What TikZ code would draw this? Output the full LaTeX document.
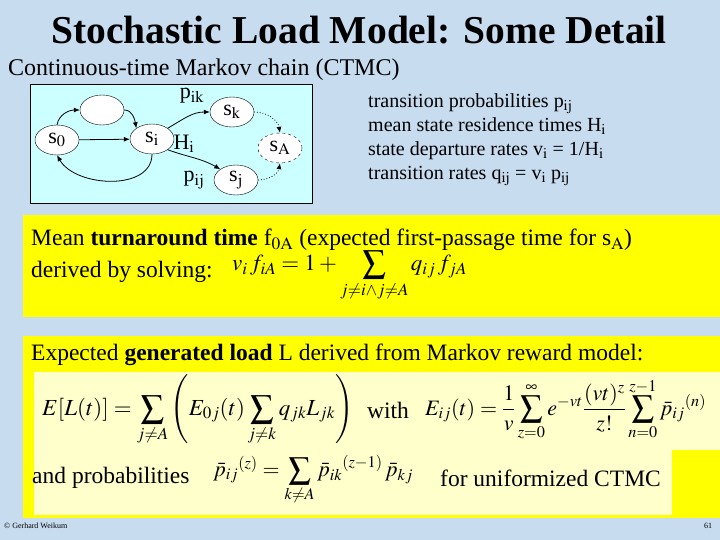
\documentclass[tikz,border=0pt]{standalone}
\usepackage{mathptmx}
\usepackage[no-math]{fontspec}
\setmainfont{Liberation Serif}
\usetikzlibrary{shapes.geometric,arrows.meta}
\definecolor{bg}{HTML}{C8DCF0}
\definecolor{cy}{HTML}{CCFFFF}
\definecolor{yel}{HTML}{FFFF00}
\definecolor{crm}{HTML}{FFFFCC}
\begin{document}
\begin{tikzpicture}[x=1pt,y=-1pt,
  st/.style={ellipse,draw,fill=white,minimum width=44pt,minimum height=30pt,inner sep=0pt,font=\fontsize{22}{22}\selectfont},
  ar/.style={-{Latex[length=6pt,width=5pt]},thick},
  dt/.style={-{Latex[length=6pt,width=5pt]},dotted,thick},
  txt/.style={inner sep=0pt,anchor=west}]
\useasboundingbox (0,0) rectangle (720,540);
\fill[bg] (0,0) rectangle (720,540);
\node[font=\bfseries\fontsize{39.5}{40}\selectfont] (title) at (359,30) {Stochastic Load Model: Some Detail};
\node[txt,font=\fontsize{24}{24}\selectfont] (ctmc) at (8,70) {Continuous-time Markov chain (CTMC)};
% diagram
\draw[fill=cy] (30,84) rectangle (312,203);
\node[st] (s0) at (57,140) {s$_0$};
\node[st] (b) at (102,110) {};
\node[st] (si) at (152,139) {s$_\mathrm{i}$};
\node[st] (sk) at (232,112) {s$_\mathrm{k}$};
\node[st,dashed] (sA) at (280,148) {s$_\mathrm{A}$};
\node[st] (sj) at (236,180) {s$_\mathrm{j}$};
\draw[ar] (s0.north) to[out=80,in=180] (b.west);
\draw[ar] (b.east) to[out=0,in=100] (si.north west);
\draw[ar] (s0) -- (si);
\draw[ar] (si.south) to[out=-90,in=-60] (s0.south);
\draw[ar] (si.north east) to[out=30,in=180] (sk.west);
\draw[ar] (si.south east) to[out=-20,in=150] (sj.north west);
\draw[dt] (sk.east) to[out=0,in=100] (sA.north);
\draw[dt] (sj.east) to[out=0,in=-100] (sA.south);
\node[font=\fontsize{22}{22}\selectfont] (pik) at (192,96) {p$_\mathrm{ik}$};
\node[font=\fontsize{22}{22}\selectfont] (Hi) at (184,144) {H$_\mathrm{i}$};
\node[font=\fontsize{22}{22}\selectfont] (pij) at (194,180) {p$_\mathrm{ij}$};
% right text
\node[txt,align=left,anchor=north west,font=\fontsize{20}{26}\selectfont] (rt) at (368,93) {transition probabilities p$_\mathrm{ij}$\\[-2pt]
mean state residence times H$_\mathrm{i}$\\[-2pt]
state departure rates v$_\mathrm{i}$ = 1/H$_\mathrm{i}$\\[-2pt]
transition rates q$_\mathrm{ij}$ = v$_\mathrm{i}$ p$_\mathrm{ij}$};
% box 1
\fill[yel] (23,215) rectangle (720,317);
\node[txt,font=\fontsize{23.5}{24}\selectfont] (m1) at (31,240) {Mean \textbf{turnaround time} f$_\mathrm{0A}$ (expected first-passage time for s$_\mathrm{A}$)};
\node[txt,font=\fontsize{23.5}{24}\selectfont] (m2) at (31,272) {derived by solving:};
\node[txt,font=\fontsize{23}{23}\selectfont] (f1) at (232,276) {$v_i\,f_{iA}=1+\displaystyle\sum_{j\neq i\wedge j\neq A} q_{ij}\,f_{jA}$};
% box 2
\fill[yel] (23,336) rectangle (720,518);
\fill[crm] (34,372) rectangle (720,450);
\fill[crm] (34,450) rectangle (672,515);
\node[txt,font=\fontsize{23.5}{24}\selectfont] (g1) at (31,355) {Expected \textbf{generated load} L derived from Markov reward model:};
\node[txt,font=\fontsize{23}{23}\selectfont] (f2) at (42,410) {$E[L(t)]=\displaystyle\sum_{j\neq A}\left(E_{0j}(t)\sum_{j\neq k}q_{jk}L_{jk}\right)$};
\node[txt,font=\fontsize{23.5}{24}\selectfont] (with) at (367,410) {with};
\node[txt,font=\fontsize{22}{22}\selectfont] (f3) at (425,410) {$\displaystyle E_{ij}(t)=\frac{1}{v}\sum_{z=0}^{\infty}e^{-vt}\frac{(vt)^z}{z!}\sum_{n=0}^{z-1}\bar p_{ij}{}^{(n)}$};
\node[txt,font=\fontsize{23.5}{24}\selectfont] (and) at (32,478) {and probabilities};
\node[txt,font=\fontsize{22}{22}\selectfont] (f4) at (213,480) {$\bar p_{ij}{}^{(z)}=\displaystyle\sum_{k\neq A}\bar p_{ik}{}^{(z-1)}\,\bar p_{kj}$};
\node[txt,font=\fontsize{23.5}{24}\selectfont] (unif) at (440,478) {for uniformized CTMC};
\node[txt,font=\fontsize{8}{8}\selectfont] (copy) at (4,526) {© Gerhard Weikum};
\node[font=\fontsize{8}{8}\selectfont] (pg) at (708,526) {61};
\end{tikzpicture}
\end{document}
